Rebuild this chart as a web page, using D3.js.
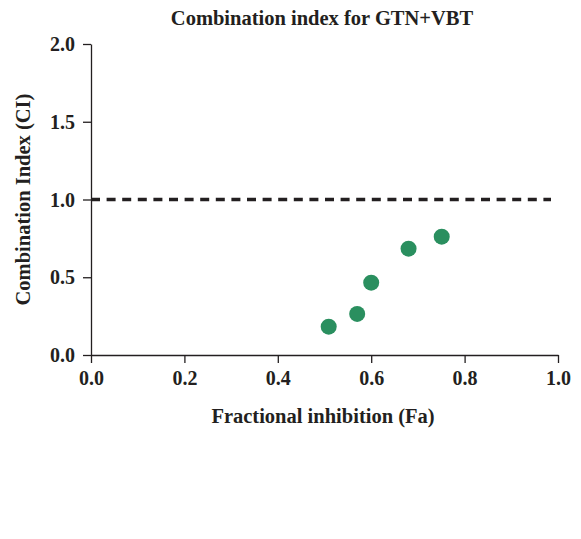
<!DOCTYPE html>
<html>
<head>
<meta charset="utf-8">
<script src="https://cdn.jsdelivr.net/npm/d3@7"></script>
<style>
  body { margin: 0; background: #fff; }
  text { font-family: "Liberation Serif", "DejaVu Serif", serif; font-weight: bold; fill: #231f20; }
</style>
</head>
<body>
<div id="chart"></div>
<script>
// Fa vs CI points
var fa = [0.509, 0.570, 0.600, 0.680, 0.751]
var ci = [0.182, 0.264, 0.465, 0.684, 0.761]
var xTicks = [0, 0.2, 0.4, 0.6, 0.8, 1.0]
var yTicks = [0, 0.5, 1.0, 1.5, 2.0]
var refLine = [1.0]

var width = 581, height = 539
var margin = {left: 91, top: 44, right: 23, bottom: 184}
var ink = '#231f20'

var svg = d3.select('#chart').append('svg')
  .attr('width', width)
  .attr('height', height)

var x = d3.scaleLinear().domain([0, 1]).range([margin.left, width - margin.right])
var y = d3.scaleLinear().domain([0, 2]).range([height - margin.bottom, margin.top])

var xAxis = svg.append('g')
  .attr('transform', 'translate(0,' + y(0) + ')')
  .call(d3.axisBottom(x).tickValues(xTicks).tickFormat(d3.format('.1f')).tickSize(8).tickSizeOuter(0))

var yAxis = svg.append('g')
  .attr('transform', 'translate(' + x(0) + ',0)')
  .call(d3.axisLeft(y).tickValues(yTicks).tickFormat(d3.format('.1f')).tickSize(8).tickSizeOuter(0))

svg.selectAll('.domain, .tick line').attr('stroke', ink).attr('stroke-width', 1.3)
svg.selectAll('.tick text').attr('font-size', 20).attr('fill', ink)
  .attr('font-family', '"Liberation Serif", serif').attr('font-weight', 'bold')
xAxis.selectAll('.tick text').attr('y', 0).attr('dy', 30)
yAxis.selectAll('.tick text').attr('x', -16).attr('dy', '0.33em')

// dashed CI = 1 line
svg.selectAll('line.ref').data(refLine).enter().append('line')
  .attr('class', 'ref')
  .attr('x1', x(0)).attr('x2', x(0.985))
  .attr('y1', d => y(d)).attr('y2', d => y(d))
  .attr('stroke', ink)
  .attr('stroke-width', 3.6)
  .attr('stroke-dasharray', '9,6.6')

svg.selectAll('circle.pt').data(fa.map((d, i) => [d, ci[i]])).enter().append('circle')
  .attr('class', 'pt')
  .attr('cx', d => x(d[0]))
  .attr('cy', d => y(d[1]))
  .attr('r', 8)
  .attr('fill', '#2a8f5f')

svg.append('text').text('Combination index for GTN+VBT')
  .attr('x', 322).attr('y', 25)
  .attr('text-anchor', 'middle')
  .attr('font-size', 20.5)

svg.append('text').text('Fractional inhibition (Fa)')
  .attr('x', 323).attr('y', 423)
  .attr('text-anchor', 'middle')
  .attr('font-size', 20.5)

svg.append('text').text('Combination Index (CI)')
  .attr('transform', 'translate(30,' + y(1) + ') rotate(-90)')
  .attr('text-anchor', 'middle')
  .attr('font-size', 20.5)
</script>
</body>
</html>
